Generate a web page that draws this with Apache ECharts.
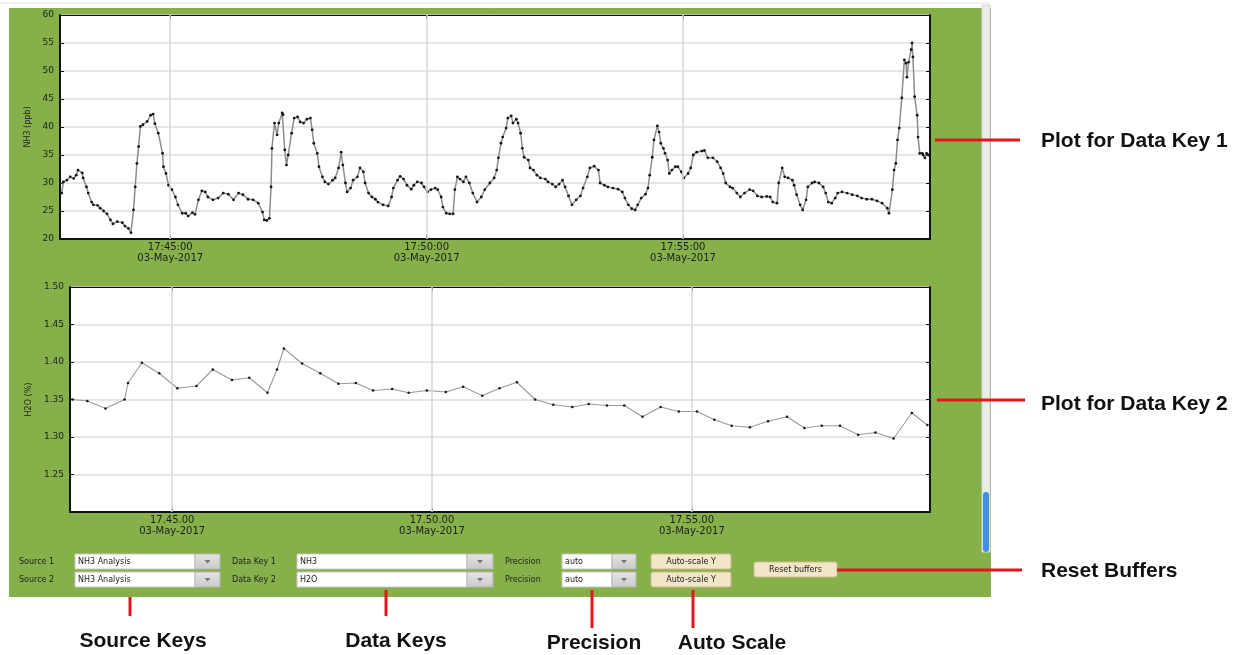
<!DOCTYPE html>
<html>
<head>
<meta charset="utf-8">
<title>NH3 / H2O monitor</title>
<script src="https://cdn.jsdelivr.net/npm/echarts@6/dist/echarts.min.js"></script>
<style>
  html, body { margin: 0; padding: 0; background: #fff; }
  #main { width: 1246px; height: 655px; }
</style>
</head>
<body>
<div id="main"></div>
<script>
// data (03-May-2017)
var dateLabel = '03-May-2017';

var nh3Times = [
  '17:42:53','17:42:55','17:42:59','17:43:03','17:43:07','17:43:10','17:43:12','17:43:17','17:43:18','17:43:22',
  '17:43:24','17:43:28','17:43:30','17:43:35','17:43:38','17:43:42','17:43:46','17:43:50','17:43:53','17:43:58',
  '17:44:04','17:44:07','17:44:11','17:44:14','17:44:17','17:44:19','17:44:21','17:44:23','17:44:25','17:44:28',
  '17:44:33','17:44:37','17:44:40','17:44:42','17:44:46','17:44:51','17:44:52','17:44:55','17:44:58','17:45:02',
  '17:45:06','17:45:09','17:45:14','17:45:18','17:45:21','17:45:26','17:45:29','17:45:33','17:45:37','17:45:41',
  '17:45:44','17:45:50','17:45:56','17:46:02','17:46:08','17:46:14','17:46:20','17:46:25','17:46:31','17:46:37',
  '17:46:43','17:46:48','17:46:50','17:46:53','17:46:56','17:46:58','17:46:59','17:47:02','17:47:05','17:47:07',
  '17:47:11','17:47:12','17:47:14','17:47:16','17:47:18','17:47:22','17:47:25','17:47:29','17:47:32','17:47:36',
  '17:47:40','17:47:44','17:47:46','17:47:48','17:47:52','17:47:54','17:47:58','17:48:01','17:48:05','17:48:10',
  '17:48:13','17:48:17','17:48:20','17:48:22','17:48:25','17:48:27','17:48:31','17:48:34','17:48:39','17:48:42',
  '17:48:46','17:48:48','17:48:52','17:48:56','17:49:00','17:49:03','17:49:09','17:49:15','17:49:19','17:49:21',
  '17:49:26','17:49:29','17:49:33','17:49:37','17:49:42','17:49:45','17:49:49','17:49:54','17:49:57','17:50:01',
  '17:50:05','17:50:10','17:50:13','17:50:17','17:50:19','17:50:23','17:50:27','17:50:31','17:50:33','17:50:36',
  '17:50:39','17:50:43','17:50:46','17:50:50','17:50:54','17:50:59','17:51:04','17:51:08','17:51:14','17:51:19',
  '17:51:22','17:51:24','17:51:27','17:51:29','17:51:33','17:51:35','17:51:39','17:51:41','17:51:45','17:51:47',
  '17:51:50','17:51:52','17:51:54','17:51:59','17:52:01','17:52:05','17:52:09','17:52:13','17:52:19','17:52:22',
  '17:52:27','17:52:31','17:52:35','17:52:39','17:52:42','17:52:46','17:52:50','17:52:55','17:53:00','17:53:03',
  '17:53:08','17:53:11','17:53:16','17:53:21','17:53:23','17:53:28','17:53:32','17:53:38','17:53:44','17:53:49',
  '17:53:52','17:53:56','17:54:00','17:54:04','17:54:07','17:54:11','17:54:16','17:54:19','17:54:21','17:54:24',
  '17:54:26','17:54:30','17:54:32','17:54:34','17:54:37','17:54:39','17:54:42','17:54:44','17:54:47','17:54:51',
  '17:54:54','17:54:58','17:55:01','17:55:06','17:55:09','17:55:12','17:55:16','17:55:22','17:55:25','17:55:29',
  '17:55:35','17:55:40','17:55:44','17:55:47','17:55:50','17:55:55','17:55:58','17:56:03','17:56:07','17:56:12',
  '17:56:18','17:56:22','17:56:27','17:56:32','17:56:38','17:56:42','17:56:45','17:56:50','17:56:52','17:56:56',
  '17:56:59','17:57:03','17:57:08','17:57:10','17:57:13','17:57:17','17:57:20','17:57:24','17:57:26','17:57:31',
  '17:57:34','17:57:39','17:57:44','17:57:47','17:57:50','17:57:54','17:57:58','17:58:01','17:58:06','17:58:12',
  '17:58:18','17:58:24','17:58:29','17:58:35','17:58:41','17:58:47','17:58:53','17:58:59','17:59:01','17:59:05',
  '17:59:07','17:59:09','17:59:11','17:59:13','17:59:16','17:59:19','17:59:21','17:59:22','17:59:24','17:59:27',
  '17:59:28','17:59:29','17:59:31','17:59:34','17:59:35','17:59:37','17:59:40','17:59:41','17:59:43','17:59:45',
  '17:59:47'
];
var nh3Values = [
  28.2, 30.2, 30.5, 31.1, 30.8, 31.4, 32.3, 31.8, 30.9, 29.3,
  28.2, 26.6, 26.1, 26.0, 25.5, 25.0, 24.5, 23.4, 22.7, 23.1,
  22.9, 22.3, 21.9, 21.1, 25.2, 29.3, 33.5, 36.5, 40.1, 40.4,
  41.0, 42.1, 42.3, 40.6, 38.9, 35.3, 32.9, 31.7, 29.6, 28.8,
  27.5, 26.1, 24.6, 24.6, 24.1, 24.7, 24.4, 27.0, 28.6, 28.4,
  27.5, 27.0, 27.3, 28.2, 28.0, 27.0, 28.2, 27.9, 27.1, 27.0,
  26.4, 24.8, 23.4, 23.3, 23.7, 29.3, 36.2, 40.7, 38.6, 40.7,
  42.5, 42.2, 35.9, 33.2, 35.0, 38.9, 41.6, 41.8, 40.9, 40.7,
  41.4, 41.6, 39.5, 37.1, 35.3, 32.9, 31.1, 30.2, 29.8, 30.5,
  30.9, 32.7, 35.5, 33.2, 30.0, 28.4, 29.1, 30.5, 31.1, 32.7,
  32.0, 30.0, 28.2, 27.5, 27.1, 26.6, 26.1, 25.9, 27.5, 29.1,
  30.5, 31.2, 30.7, 29.6, 28.9, 29.6, 30.2, 30.0, 29.3, 28.4,
  28.8, 29.1, 28.8, 27.5, 25.7, 24.6, 24.5, 24.5, 28.8, 31.1,
  30.7, 30.2, 31.1, 30.0, 28.2, 26.6, 27.5, 28.8, 30.0, 30.9,
  32.3, 34.5, 37.1, 38.2, 39.8, 41.6, 42.0, 40.7, 41.4, 40.7,
  38.9, 36.2, 34.6, 34.1, 32.7, 32.3, 31.4, 30.9, 30.7, 30.2,
  29.8, 29.3, 29.8, 30.5, 29.3, 27.7, 26.1, 27.0, 27.7, 29.1,
  31.1, 32.7, 33.0, 32.3, 30.0, 29.6, 29.3, 29.1, 28.9, 28.4,
  27.3, 26.1, 25.4, 25.2, 26.1, 27.3, 28.0, 29.1, 31.4, 34.6,
  37.7, 40.2, 39.1, 37.1, 36.2, 35.3, 34.1, 31.7, 32.3, 32.9,
  32.9, 32.0, 30.9, 31.7, 32.7, 35.0, 35.5, 35.7, 35.8, 34.5,
  34.5, 33.8, 32.7, 31.7, 30.0, 29.3, 29.1, 28.2, 27.5, 28.2,
  28.8, 28.6, 27.7, 27.5, 27.6, 27.5, 26.6, 26.4, 30.0, 32.7,
  31.1, 30.9, 30.5, 29.6, 27.9, 26.1, 25.2, 27.0, 29.3, 30.0,
  30.2, 30.0, 29.3, 28.2, 26.6, 26.4, 27.3, 28.2, 28.4, 28.2,
  27.9, 27.7, 27.3, 27.1, 27.1, 26.8, 26.4, 25.5, 24.6, 28.8,
  32.3, 33.5, 37.7, 39.8, 45.2, 52.0, 51.4, 48.9, 51.6, 53.8,
  55.0, 52.5, 45.4, 42.1, 38.2, 35.3, 35.3, 35.0, 34.5, 35.3,
  35.0
];

var h2oTimes = [
  '17:43:05','17:43:22','17:43:43','17:44:05','17:44:09','17:44:25','17:44:45','17:45:06','17:45:28','17:45:47',
  '17:46:09','17:46:29','17:46:50','17:47:01','17:47:09','17:47:30','17:47:51','17:48:12','17:48:32','17:48:52',
  '17:49:14','17:49:33','17:49:54','17:50:16','17:50:36','17:50:58','17:51:18','17:51:38','17:51:59','17:52:20',
  '17:52:42','17:53:01','17:53:22','17:53:42','17:54:03','17:54:24','17:54:45','17:55:06','17:55:26','17:55:46',
  '17:56:07','17:56:28','17:56:50','17:57:10','17:57:30','17:57:51','17:58:12','17:58:32','17:58:53','17:59:14',
  '17:59:32'
];
var h2oValues = [
  1.350, 1.348, 1.338, 1.350, 1.372, 1.399, 1.385, 1.365, 1.368, 1.390,
  1.376, 1.379, 1.359, 1.390, 1.418, 1.398, 1.385, 1.371, 1.372, 1.362,
  1.364, 1.359, 1.362, 1.360, 1.367, 1.355, 1.365, 1.373, 1.350, 1.343,
  1.340, 1.344, 1.342, 1.342, 1.327, 1.340, 1.334, 1.334, 1.323, 1.315,
  1.313, 1.321, 1.327, 1.312, 1.315, 1.315, 1.303, 1.306, 1.298, 1.332,
  1.316
];

// x axis marks
var tickTimes = ['17:45:00', '17:50:00', '17:55:00'];
var topTickLabels = ['17:45:00', '17:50:00', '17:55:00'];
var bottomTickLabels = ['17.45.00', '17.50.00', '17.55.00'];
var topRange = ['17:42:51', '17:59:49'];
var bottomRange = ['17:43:02', '17:59:35'];

// y axis ranges
var nh3Axis = { min: 20, max: 60, step: 5 };
var h2oAxis = { min: 1.20, max: 1.50, step: 0.05 };

// time of day -> seconds since midnight
function secs(t) {
    var p = t.split(':');
    return (+p[0]) * 3600 + (+p[1]) * 60 + (+p[2]);
}

var tickValues = tickTimes.map(secs);

function pairs(times, values) {
    return times.map(function (t, i) { return [secs(t), values[i]]; });
}

var GREEN = '#86b04a';
var FONT = 'DejaVu Sans';
var BOLD = 'Liberation Sans';

function xAxes(range, labels, gridIndex) {
    return [
        {
            type: 'value', gridIndex: gridIndex, position: 'bottom',
            min: secs(range[0]), max: secs(range[1]),
            axisLine: { lineStyle: { color: '#111', width: 2 } },
            axisTick: { inside: true, length: 4, customValues: tickValues, lineStyle: { color: '#111' } },
            axisLabel: {
                customValues: tickValues, margin: 3, fontFamily: FONT, fontSize: 10, lineHeight: 11, color: '#1e1e1e',
                formatter: function (v) {
                    var i = tickValues.indexOf(v);
                    return (labels[i] || '') + '\n' + dateLabel;
                }
            },
            splitLine: { show: false }
        },
        {
            type: 'value', gridIndex: gridIndex, position: 'top',
            min: secs(range[0]), max: secs(range[1]),
            axisLine: { lineStyle: { color: '#111', width: 1 } },
            axisTick: { inside: true, length: 4, customValues: tickValues, lineStyle: { color: '#111' } },
            axisLabel: { show: false },
            splitLine: { show: false }
        }
    ];
}

function yAxes(ax, name, nameGap, decimals, gridIndex) {
    return [
        {
            type: 'value', gridIndex: gridIndex, position: 'left',
            min: ax.min, max: ax.max, interval: ax.step,
            name: name, nameLocation: 'middle', nameGap: nameGap,
            nameTextStyle: { fontFamily: FONT, fontSize: 8, color: '#1e1e1e' },
            axisLine: { show: true, lineStyle: { color: '#111', width: 2 } },
            axisTick: { show: true, inside: true, length: 4, lineStyle: { color: '#111' } },
            axisLabel: {
                margin: 6, fontFamily: FONT, fontSize: 9, color: '#1e1e1e',
                formatter: function (v) {
                    if (decimals && Math.abs(v - ax.min) < 1e-6) return '';
                    return v.toFixed(decimals);
                }
            },
            splitLine: { show: true, lineStyle: { color: '#dedede', width: 1.5 } }
        },
        {
            type: 'value', gridIndex: gridIndex, position: 'right',
            min: ax.min, max: ax.max, interval: ax.step,
            axisLine: { show: true, lineStyle: { color: '#111', width: 2 } },
            axisTick: { show: true, inside: true, length: 4, lineStyle: { color: '#111' } },
            axisLabel: { show: false },
            splitLine: { show: false }
        }
    ];
}

var vGrid = {
    silent: true, symbol: 'none', animation: false,
    label: { show: false },
    lineStyle: { color: '#d6d6d6', width: 1.5, type: 'solid' },
    data: tickValues.map(function (v) { return { xAxis: v }; })
};

// --- page furniture drawn as graphic elements ---
function txt(x, y, s, size, opts) {
    opts = opts || {};
    return {
        type: 'text', z: 100, x: x, y: y,
        style: {
            text: s, fill: opts.color || '#222',
            font: (opts.bold ? 'bold ' : '') + size + 'px "' + (opts.family || FONT) + '"',
            textAlign: opts.align || 'left', align: opts.align || 'left',
            textVerticalAlign: 'middle', verticalAlign: 'middle'
        }
    };
}
function box(x, y, w, h, fill, stroke, r) {
    return {
        type: 'rect', z: 90,
        shape: { x: x, y: y, width: w, height: h, r: r || 0 },
        style: { fill: fill, stroke: stroke || null, lineWidth: stroke ? 1 : 0 }
    };
}
function redLine(x1, y1, x2, y2) {
    return {
        type: 'line', z: 100,
        shape: { x1: x1, y1: y1, x2: x2, y2: y2 },
        style: { stroke: '#e4161d', lineWidth: 3 }
    };
}
function dropdown(x, y, w, bw, value) {
    var h = 15;
    return [
        box(x, y, w, h, '#ffffff', '#c8c8c8'),
        box(x + w, y, bw, h, {
            type: 'linear', x: 0, y: 0, x2: 0, y2: 1,
            colorStops: [{ offset: 0, color: '#e6e6e6' }, { offset: 1, color: '#c9c9c9' }]
        }, '#b5b5b5'),
        {
            type: 'polygon', z: 100,
            shape: { points: [[x + w + bw / 2 - 3, y + 6], [x + w + bw / 2 + 3, y + 6], [x + w + bw / 2, y + 9.5]] },
            style: { fill: '#777' }
        },
        txt(x + 3, y + h / 2 + 0.5, value, 8)
    ];
}
function button(x, y, w, label) {
    return [
        box(x, y, w, 15, '#f1e6c8', '#cdbb8c', 2),
        txt(x + w / 2, y + 8, label, 8, { align: 'center' })
    ];
}

var row1 = 554, row2 = 572;
var bold = { bold: true, family: BOLD, color: '#111' };
var boldC = { bold: true, family: BOLD, color: '#111', align: 'center' };
var graphics = [].concat(
    [
        { type: 'line', z: 1, shape: { x1: 0, y1: 3, x2: 990, y2: 3 }, style: { stroke: '#e3e3e3', lineWidth: 1 } },
        { type: 'rect', z: -10, shape: { x: 9, y: 8, width: 982, height: 589 }, style: { fill: GREEN } },
        box(982, 5, 8, 547, '#ececec', '#d4d4d4'),
        box(983, 492, 6, 60, '#3f8fe4', null, 3)
    ],
    txt(19, row1 + 8, 'Source 1', 8), txt(19, row2 + 8, 'Source 2', 8),
    dropdown(75, row1, 120, 25, 'NH3 Analysis'), dropdown(75, row2, 120, 25, 'NH3 Analysis'),
    txt(232, row1 + 8, 'Data Key 1', 8), txt(232, row2 + 8, 'Data Key 2', 8),
    dropdown(297, row1, 170, 26, 'NH3'), dropdown(297, row2, 170, 26, 'H2O'),
    txt(505, row1 + 8, 'Precision', 8), txt(505, row2 + 8, 'Precision', 8),
    dropdown(562, row1, 50, 24, 'auto'), dropdown(562, row2, 50, 24, 'auto'),
    button(651, row1, 80, 'Auto-scale Y'), button(651, row2, 80, 'Auto-scale Y'),
    button(754, 562, 83, 'Reset buffers'),
    // annotations
    [
        redLine(935, 140, 1020, 140), txt(1041, 141, 'Plot for Data Key 1', 21, bold),
        redLine(937, 400, 1025, 400), txt(1041, 404, 'Plot for Data Key 2', 21, bold),
        redLine(837, 570, 1022, 570), txt(1041, 571, 'Reset Buffers', 21, bold),
        redLine(130, 597, 130, 616), txt(143, 641, 'Source Keys', 21, boldC),
        redLine(386, 590, 386, 616), txt(396, 641, 'Data Keys', 21, boldC),
        redLine(592, 590, 592, 628), txt(594, 643, 'Precision', 21, boldC),
        redLine(693, 590, 693, 628), txt(732, 643, 'Auto Scale', 21, boldC)
    ]
);

var myChart = echarts.init(document.getElementById('main'));

var option = {
    animation: false,
    backgroundColor: '#ffffff',
    grid: [
        { left: 60, top: 15, right: 316, height: 224, show: true, backgroundColor: '#ffffff', borderColor: '#111', borderWidth: 1 },
        { left: 70, top: 287, right: 316, height: 225, show: true, backgroundColor: '#ffffff', borderColor: '#111', borderWidth: 1 }
    ],
    xAxis: xAxes(topRange, topTickLabels, 0).concat(xAxes(bottomRange, bottomTickLabels, 1)),
    yAxis: yAxes(nh3Axis, 'NH3 (ppb)', 27, 0, 0).concat(yAxes(h2oAxis, 'H2O (%)', 37, 2, 1)),
    series: [
        {
            name: 'NH3', type: 'line', xAxisIndex: 0, yAxisIndex: 0,
            data: pairs(nh3Times, nh3Values),
            symbol: 'circle', symbolSize: 2.8, showSymbol: true,
            lineStyle: { color: '#8c8c8c', width: 1.5 },
            itemStyle: { color: '#151515' },
            markLine: vGrid
        },
        {
            name: 'H2O', type: 'line', xAxisIndex: 2, yAxisIndex: 2,
            data: pairs(h2oTimes, h2oValues),
            symbol: 'circle', symbolSize: 2.6, showSymbol: true,
            lineStyle: { color: '#9a9a9a', width: 1.1 },
            itemStyle: { color: '#1a1a1a' },
            markLine: vGrid
        }
    ],
    graphic: { elements: graphics }
};

myChart.setOption(option);
</script>
</body>
</html>
